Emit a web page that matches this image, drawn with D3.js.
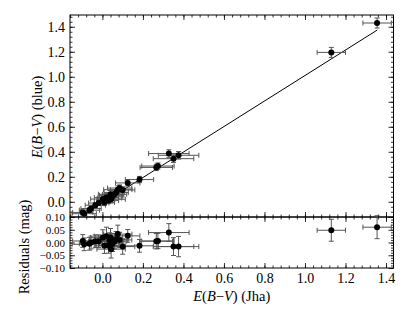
<!DOCTYPE html>
<html>
<head>
<meta charset="utf-8">
<script src="https://cdn.jsdelivr.net/npm/d3@7"></script>
<style>
  body { margin: 0; background: #fff; }
  svg text { font-family: "Liberation Serif", "DejaVu Serif", serif; }
</style>
</head>
<body>
<svg id="chart" width="415" height="312"></svg>
<script>
// E(B-V) from Jha vs our own (blue) fit, with errors
const ebvJha  = [1.356, 1.130, 0.376, 0.351, 0.328, 0.274, 0.266, 0.183, 0.125, 0.100, 0.085, 0.076, 0.068, 0.060, 0.050, 0.046, 0.043, 0.035, 0.030, 0.040, 0.020, 0.010, 0.002, -0.018, -0.035, -0.056, -0.064, -0.090, -0.097];
const ebvBlue = [1.430, 1.195, 0.372, 0.345, 0.386, 0.286, 0.275, 0.178, 0.151, 0.095, 0.110, 0.097, 0.075, 0.060, 0.045, 0.052, 0.020, 0.030, 0.010, 0.060, 0.035, -0.005, 0.022, -0.010, -0.027, -0.054, -0.067, -0.095, -0.085];
const errJha  = [0.070, 0.070, 0.100, 0.100, 0.100, 0.080, 0.080, 0.070, 0.060, 0.060, 0.060, 0.070, 0.060, 0.060, 0.050, 0.060, 0.070, 0.060, 0.050, 0.060, 0.060, 0.050, 0.060, 0.050, 0.050, 0.050, 0.050, 0.060, 0.050];
const errBlue = [0.040, 0.040, 0.030, 0.030, 0.030, 0.025, 0.025, 0.025, 0.025, 0.025, 0.025, 0.030, 0.025, 0.025, 0.020, 0.025, 0.030, 0.025, 0.025, 0.030, 0.030, 0.025, 0.025, 0.020, 0.020, 0.020, 0.020, 0.020, 0.020];
const resid   = [0.060, 0.048, -0.016, -0.016, 0.039, 0.006, 0.005, -0.013, 0.026, -0.016, 0.010, 0.033, 0.013, 0.005, -0.005, 0.006, -0.026, 0.008, -0.012, 0.020, 0.025, -0.013, 0.020, 0.005, 0.005, 0.000, -0.005, -0.007, 0.006];
const residErr = [0.045, 0.043, 0.040, 0.035, 0.035, 0.030, 0.030, 0.025, 0.025, 0.030, 0.030, 0.035, 0.030, 0.030, 0.030, 0.030, 0.035, 0.030, 0.030, 0.035, 0.035, 0.030, 0.030, 0.025, 0.025, 0.025, 0.025, 0.025, 0.025];

// straight-line fit, end points
const fitX = [-0.097, 1.357];
const fitY = [-0.109, 1.374];

const xTicks = [0.0, 0.2, 0.4, 0.6, 0.8, 1.0, 1.2, 1.4];
const yTicks = [0.0, 0.2, 0.4, 0.6, 0.8, 1.0, 1.2, 1.4];
const rTicks = [-0.10, -0.05, 0.00, 0.05, 0.10];

const points = ebvJha.map((d, i) => ({
  x: d, y: ebvBlue[i], ex: errJha[i], ey: errBlue[i], r: resid[i], er: residErr[i]
}));

const left = 70, right = 393.5;
const mainTop = 15, mainBot = 217, resBot = 268;
const serif = '"Liberation Serif", "DejaVu Serif", serif';

const x = d3.scaleLinear().domain([-0.16, 1.437]).range([left, right]);
const y = d3.scaleLinear().domain([-0.1215, 1.494]).range([mainBot, mainTop]);
const yr = d3.scaleLinear().domain([-0.10, 0.10]).range([resBot, mainBot]);

const svg = d3.select('#chart');
const fmt1 = d3.format('.1f');
const fmt2 = v => d3.format('.2f')(v).replace('-', '\u2212');

// inward ticks on all four sides of a panel
function frame(yScale, yMajor, yMinor, fmt, top, bot, showX, ySize) {
  const g = svg.append('g');
  const xMinor = d3.range(-0.16, 1.44, 0.04);

  g.append('g').attr('transform', `translate(0,${bot})`)
    .call(d3.axisBottom(x).tickValues(xMinor).tickSize(-2.5).tickFormat(''));
  g.append('g').attr('transform', `translate(0,${bot})`)
    .call(d3.axisBottom(x).tickValues(xTicks).tickSize(-5).tickPadding(5)
      .tickFormat(showX ? fmt1 : ''));
  g.append('g').attr('transform', `translate(0,${top})`)
    .call(d3.axisTop(x).tickValues(xMinor).tickSize(-2.5).tickFormat(''));
  g.append('g').attr('transform', `translate(0,${top})`)
    .call(d3.axisTop(x).tickValues(xTicks).tickSize(-5).tickFormat(''));

  g.append('g').attr('transform', `translate(${left},0)`)
    .call(d3.axisLeft(yScale).tickValues(yMinor).tickSize(-2.5).tickFormat(''));
  const yAx = g.append('g').attr('transform', `translate(${left},0)`)
    .call(d3.axisLeft(yScale).tickValues(yMajor).tickSize(-5).tickPadding(5).tickFormat(fmt));
  g.append('g').attr('transform', `translate(${right},0)`)
    .call(d3.axisRight(yScale).tickValues(yMinor).tickSize(-2.5).tickFormat(''));
  g.append('g').attr('transform', `translate(${right},0)`)
    .call(d3.axisRight(yScale).tickValues(yMajor).tickSize(-5).tickFormat(''));

  g.selectAll('.domain').remove();
  g.selectAll('.tick line').attr('stroke', '#000').attr('stroke-width', 0.8);
  g.selectAll('.tick text').attr('fill', '#000')
    .attr('font-family', serif).attr('font-size', 14);
  yAx.selectAll('.tick text').attr('font-size', ySize);

  g.append('rect')
    .attr('x', left).attr('y', top)
    .attr('width', right - left).attr('height', bot - top)
    .attr('fill', 'none').attr('stroke', '#000').attr('stroke-width', 1);
}

frame(y, yTicks, d3.range(-0.12, 1.49, 0.04), fmt1, mainTop, mainBot, false, 14);
frame(yr, rTicks, d3.range(-0.10, 0.101, 0.01), fmt2, mainBot, resBot, true, 11);

// error bars with caps
function errorBars(g, yScale, yKey, eKey) {
  const col = '#555', cap = 2.5;
  const e = g.selectAll('g.err').data(points).enter().append('g')
    .attr('stroke', col).attr('stroke-width', 1).attr('fill', 'none');
  e.append('line')
    .attr('x1', d => x(d.x - d.ex)).attr('x2', d => x(d.x + d.ex))
    .attr('y1', d => yScale(d[yKey])).attr('y2', d => yScale(d[yKey]));
  e.append('line')
    .attr('x1', d => x(d.x)).attr('x2', d => x(d.x))
    .attr('y1', d => yScale(d[yKey] - d[eKey])).attr('y2', d => yScale(d[yKey] + d[eKey]));
  [-1, 1].forEach(s => {
    e.append('line')
      .attr('x1', d => x(d.x + s * d.ex)).attr('x2', d => x(d.x + s * d.ex))
      .attr('y1', d => yScale(d[yKey]) - cap).attr('y2', d => yScale(d[yKey]) + cap);
    e.append('line')
      .attr('x1', d => x(d.x) - cap).attr('x2', d => x(d.x) + cap)
      .attr('y1', d => yScale(d[yKey] + s * d[eKey])).attr('y2', d => yScale(d[yKey] + s * d[eKey]));
  });
  g.selectAll('circle').data(points).enter().append('circle')
    .attr('cx', d => x(d.x)).attr('cy', d => yScale(d[yKey]))
    .attr('r', 3).attr('fill', '#000');
}

const mainG = svg.append('g');
mainG.append('path')
  .datum(fitX.map((d, i) => [d, fitY[i]]))
  .attr('d', d3.line().x(d => x(d[0])).y(d => y(d[1])))
  .attr('stroke', '#000').attr('stroke-width', 1).attr('fill', 'none');
errorBars(mainG, y, 'y', 'ey');

const resG = svg.append('g');
errorBars(resG, yr, 'r', 'er');

// axis labels with italic E, B, V
function ebvLabel(sel, tail) {
  sel.append('tspan').attr('font-style', 'italic').text('E');
  sel.append('tspan').text('(');
  sel.append('tspan').attr('font-style', 'italic').text('B');
  sel.append('tspan').text('\u2212');
  sel.append('tspan').attr('font-style', 'italic').text('V');
  sel.append('tspan').text(')' + tail);
}

svg.append('text')
  .attr('x', (left + right) / 2).attr('y', 301)
  .attr('text-anchor', 'middle').attr('font-size', 14.5)
  .call(ebvLabel, ' (Jha)');

svg.append('text')
  .attr('transform', `translate(42,${117}) rotate(-90)`)
  .attr('text-anchor', 'middle').attr('font-size', 14.5)
  .call(ebvLabel, ' (blue)');

svg.append('text')
  .attr('transform', `translate(29,${247}) rotate(-90)`)
  .attr('text-anchor', 'middle').attr('font-size', 14.5)
  .text('Residuals (mag)');
</script>
</body>
</html>
